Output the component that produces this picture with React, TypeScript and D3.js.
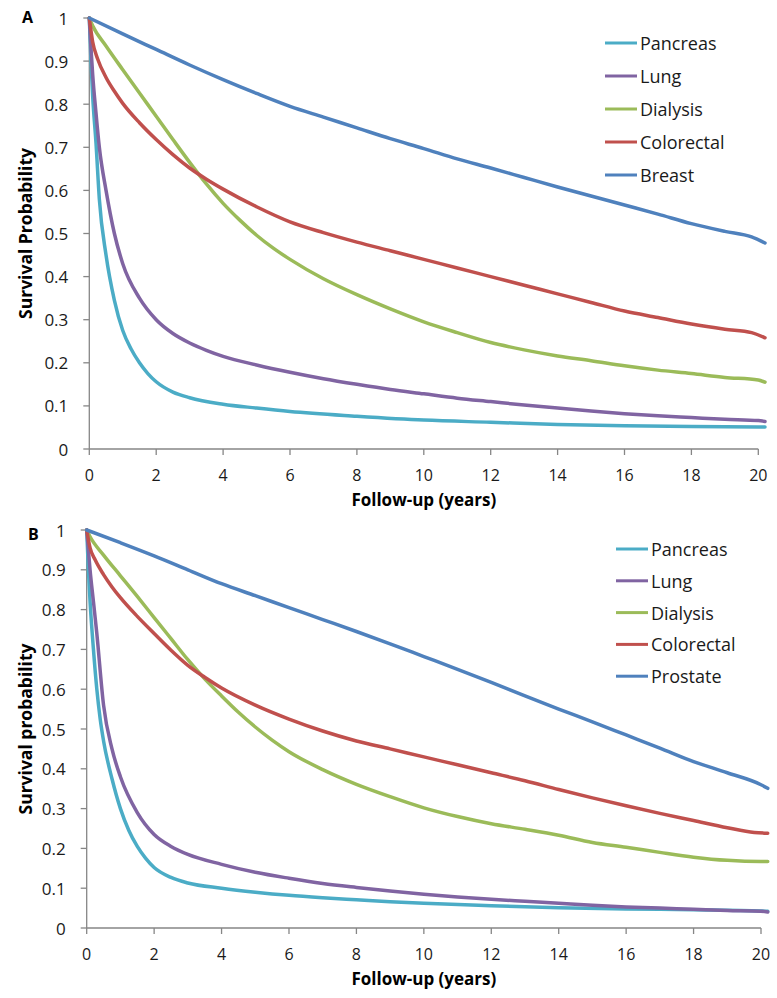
import React from "react";
import * as d3 from "d3";

type Pt = [number, number];

const xTicks = [0, 2, 4, 6, 8, 10, 12, 14, 16, 18, 20];
const yTicks = [0, 0.1, 0.2, 0.3, 0.4, 0.5, 0.6, 0.7, 0.8, 0.9, 1];
const yTickLabels = ["0", "0.1", "0.2", "0.3", "0.4", "0.5", "0.6", "0.7", "0.8", "0.9", "1"];

// Panel A series: [years, survival]
const pancreasA: Pt[] = [[0,1],[0.05,0.9],[0.1,0.82],[0.2,0.71],[0.3,0.58],[0.5,0.45],[0.75,0.345],[1,0.275],[1.25,0.232],[1.5,0.2],[1.75,0.175],[2,0.156],[2.5,0.132],[3,0.119],[4,0.104],[5,0.095],[6,0.087],[8,0.076],[10,0.067],[12,0.062],[14,0.057],[16,0.054],[18,0.052],[20,0.051],[20.2,0.051]];
const lungA: Pt[] = [[0,1],[0.05,0.93],[0.1,0.87],[0.2,0.78],[0.3,0.7],[0.5,0.6],[0.75,0.5],[1,0.43],[1.5,0.35],[2,0.3],[2.5,0.268],[3,0.246],[3.5,0.229],[4,0.215],[5,0.195],[6,0.178],[7,0.163],[8,0.15],[9,0.138],[10,0.128],[11,0.118],[12,0.11],[13,0.102],[14,0.095],[15,0.088],[16,0.082],[17,0.077],[18,0.073],[19,0.069],[20,0.066],[20.2,0.064]];
const dialysisA: Pt[] = [[0,1],[0.1,0.982],[0.5,0.935],[1,0.88],[1.5,0.826],[2,0.772],[2.5,0.718],[3,0.665],[3.5,0.615],[4,0.57],[4.5,0.531],[5,0.496],[5.5,0.466],[6,0.44],[7,0.395],[8,0.358],[9,0.325],[10,0.295],[11,0.27],[12,0.247],[13,0.23],[14,0.216],[15,0.205],[16,0.193],[17,0.183],[18,0.175],[19,0.166],[20,0.16],[20.2,0.155]];
const colorectalA: Pt[] = [[0,1],[0.1,0.945],[0.25,0.905],[0.5,0.862],[0.75,0.83],[1,0.802],[1.5,0.757],[2,0.718],[2.5,0.683],[3,0.652],[3.5,0.626],[4,0.603],[5,0.562],[6,0.527],[7,0.502],[8,0.48],[9,0.46],[10,0.44],[11,0.42],[12,0.4],[13,0.38],[14,0.36],[15,0.34],[16,0.32],[17,0.305],[18,0.29],[19,0.278],[19.8,0.27],[20.2,0.258]];
const breastA: Pt[] = [[0,1],[1,0.963],[2,0.927],[3,0.891],[4,0.857],[5,0.825],[6,0.795],[7,0.77],[8,0.745],[9,0.72],[10,0.697],[11,0.673],[12,0.652],[13,0.63],[14,0.608],[15,0.587],[16,0.566],[17,0.545],[18,0.523],[19,0.505],[19.8,0.492],[20.2,0.478]];

// Panel B series
const pancreasB: Pt[] = [[0,1],[0.05,0.9],[0.1,0.82],[0.2,0.7],[0.3,0.6],[0.4,0.525],[0.5,0.47],[0.75,0.375],[1,0.3],[1.25,0.245],[1.5,0.205],[1.75,0.175],[2,0.152],[2.5,0.127],[3,0.113],[4,0.1],[5,0.09],[6,0.082],[7,0.076],[8,0.071],[9,0.066],[10,0.062],[12,0.056],[14,0.051],[16,0.048],[18,0.046],[20,0.043],[20.2,0.042]];
const lungB: Pt[] = [[0,1],[0.05,0.95],[0.1,0.9],[0.2,0.82],[0.3,0.74],[0.5,0.56],[0.75,0.45],[1,0.38],[1.5,0.29],[2,0.235],[2.5,0.205],[3,0.185],[4,0.16],[5,0.14],[6,0.125],[7,0.112],[8,0.102],[9,0.093],[10,0.085],[11,0.078],[12,0.072],[13,0.067],[14,0.062],[15,0.057],[16,0.053],[17,0.05],[18,0.047],[19,0.044],[20,0.042],[20.2,0.04]];
const dialysisB: Pt[] = [[0,1],[0.1,0.983],[0.5,0.937],[1,0.885],[1.5,0.833],[2,0.78],[2.5,0.727],[3,0.674],[3.5,0.626],[4,0.583],[4.5,0.542],[5,0.505],[5.5,0.472],[6,0.443],[7,0.398],[8,0.361],[9,0.33],[10,0.302],[11,0.28],[12,0.262],[13,0.248],[14,0.233],[15,0.215],[16,0.203],[17,0.19],[18,0.178],[19,0.17],[20,0.167],[20.2,0.167]];
const colorectalB: Pt[] = [[0,1],[0.1,0.955],[0.25,0.925],[0.5,0.888],[0.75,0.857],[1,0.83],[1.5,0.783],[2,0.74],[2.5,0.698],[3,0.66],[3.5,0.63],[4,0.603],[5,0.56],[6,0.525],[7,0.495],[8,0.47],[9,0.45],[10,0.43],[11,0.41],[12,0.39],[13,0.37],[14,0.348],[15,0.327],[16,0.307],[17,0.288],[18,0.27],[19,0.252],[19.8,0.24],[20.2,0.238]];
const prostateB: Pt[] = [[0,1],[1,0.968],[2,0.935],[3,0.9],[4,0.865],[5,0.835],[6,0.805],[7,0.775],[8,0.745],[9,0.714],[10,0.682],[11,0.65],[12,0.617],[13,0.583],[14,0.55],[15,0.518],[16,0.485],[17,0.452],[18,0.418],[19,0.39],[20,0.36],[20.2,0.351]];

const seriesNamesA = ["Pancreas", "Lung", "Dialysis", "Colorectal", "Breast"];
const seriesNamesB = ["Pancreas", "Lung", "Dialysis", "Colorectal", "Prostate"];
const colors = ["#4BACC6", "#8064A2", "#9BBB59", "#C0504D", "#4F81BD"];

const FONT = "'Open Sans', 'DejaVu Sans', sans-serif";

type PanelProps = {
  letter: string;
  yTitle: string;
  names: string[];
  data: Pt[][];
  x0: number; x1: number; y0: number; y1: number;
  legendX: number; legendY: number; legendStep: number;
  letterX: number; letterY: number;
};

function Panel(p: PanelProps) {
  const x = d3.scaleLinear().domain([0, 20]).range([p.x0, p.x1]);
  const y = d3.scaleLinear().domain([0, 1]).range([p.y0, p.y1]);
  const line = d3.line<Pt>().x(d => x(d[0])).y(d => y(d[1])).curve(d3.curveMonotoneX);
  const axisColor = "#868686";
  return (
    <g>
      <text x={p.letterX} y={p.letterY} fontFamily={FONT} fontWeight="bold" fontSize={16} fill="#000" dominantBaseline="middle">{p.letter}</text>
      {/* y axis */}
      <line x1={p.x0} x2={p.x0} y1={p.y1} y2={p.y0} stroke={axisColor} strokeWidth={1.3} />
      {yTicks.map((t, i) => (
        <g key={"y" + i}>
          <line x1={p.x0 - 6} x2={p.x0} y1={y(t)} y2={y(t)} stroke={axisColor} strokeWidth={1.3} />
          <text x={p.x0 - 21} y={y(t)} textAnchor="end" dominantBaseline="central" fontFamily={FONT} fontSize={17} fill="#1a1a1a">{yTickLabels[i]}</text>
        </g>
      ))}
      {/* x axis */}
      <line x1={p.x0} x2={p.x1} y1={p.y0} y2={p.y0} stroke={axisColor} strokeWidth={1.3} />
      {xTicks.map((t, i) => (
        <g key={"x" + i}>
          <line x1={x(t)} x2={x(t)} y1={p.y0} y2={p.y0 + 6} stroke={axisColor} strokeWidth={1.3} />
          <text x={x(t)} y={p.y0 + 26} textAnchor="middle" dominantBaseline="central" fontFamily={FONT} fontSize={16} fill="#1a1a1a">{String(t)}</text>
        </g>
      ))}
      <text x={(p.x0 + p.x1) / 2} y={p.y0 + 50} textAnchor="middle" dominantBaseline="central" fontFamily={FONT} fontWeight="bold" fontSize={17} fill="#000">Follow-up (years)</text>
      <text transform={`translate(25,${(p.y0 + p.y1) / 2}) rotate(-90)`} textAnchor="middle" dominantBaseline="central" fontFamily={FONT} fontWeight="bold" fontSize={17.5} fill="#000">{p.yTitle}</text>
      {/* curves */}
      {p.data.map((s, i) => (
        <path key={"c" + i} d={line(s) || ""} fill="none" stroke={colors[i]} strokeWidth={3.5} strokeLinejoin="round" strokeLinecap="round" />
      ))}
      {/* legend */}
      {p.names.map((n, i) => (
        <g key={"l" + i}>
          <line x1={p.legendX} x2={p.legendX + 32} y1={p.legendY + i * p.legendStep} y2={p.legendY + i * p.legendStep} stroke={colors[i]} strokeWidth={3} />
          <text x={p.legendX + 35} y={p.legendY + i * p.legendStep} dominantBaseline="central" fontFamily={FONT} fontSize={18} fill="#1a1a1a">{n}</text>
        </g>
      ))}
    </g>
  );
}

export default function App() {
  return (
    <svg width={777} height={998} style={{ position: "absolute", left: 0, top: 0, background: "#fff" }}>
      <rect width={777} height={998} fill="#fff" />
      <Panel letter="A" yTitle="Survival Probability" names={seriesNamesA}
        data={[pancreasA, lungA, dialysisA, colorectalA, breastA]}
        x0={89.3} x1={758.3} y0={449} y1={18}
        legendX={605} legendY={43} legendStep={33}
        letterX={22} letterY={19} />
      <Panel letter="B" yTitle="Survival probability" names={seriesNamesB}
        data={[pancreasB, lungB, dialysisB, colorectalB, prostateB]}
        x0={86.7} x1={761} y0={928} y1={530}
        legendX={616} legendY={549} legendStep={31.8}
        letterX={28} letterY={536} />
    </svg>
  );
}
